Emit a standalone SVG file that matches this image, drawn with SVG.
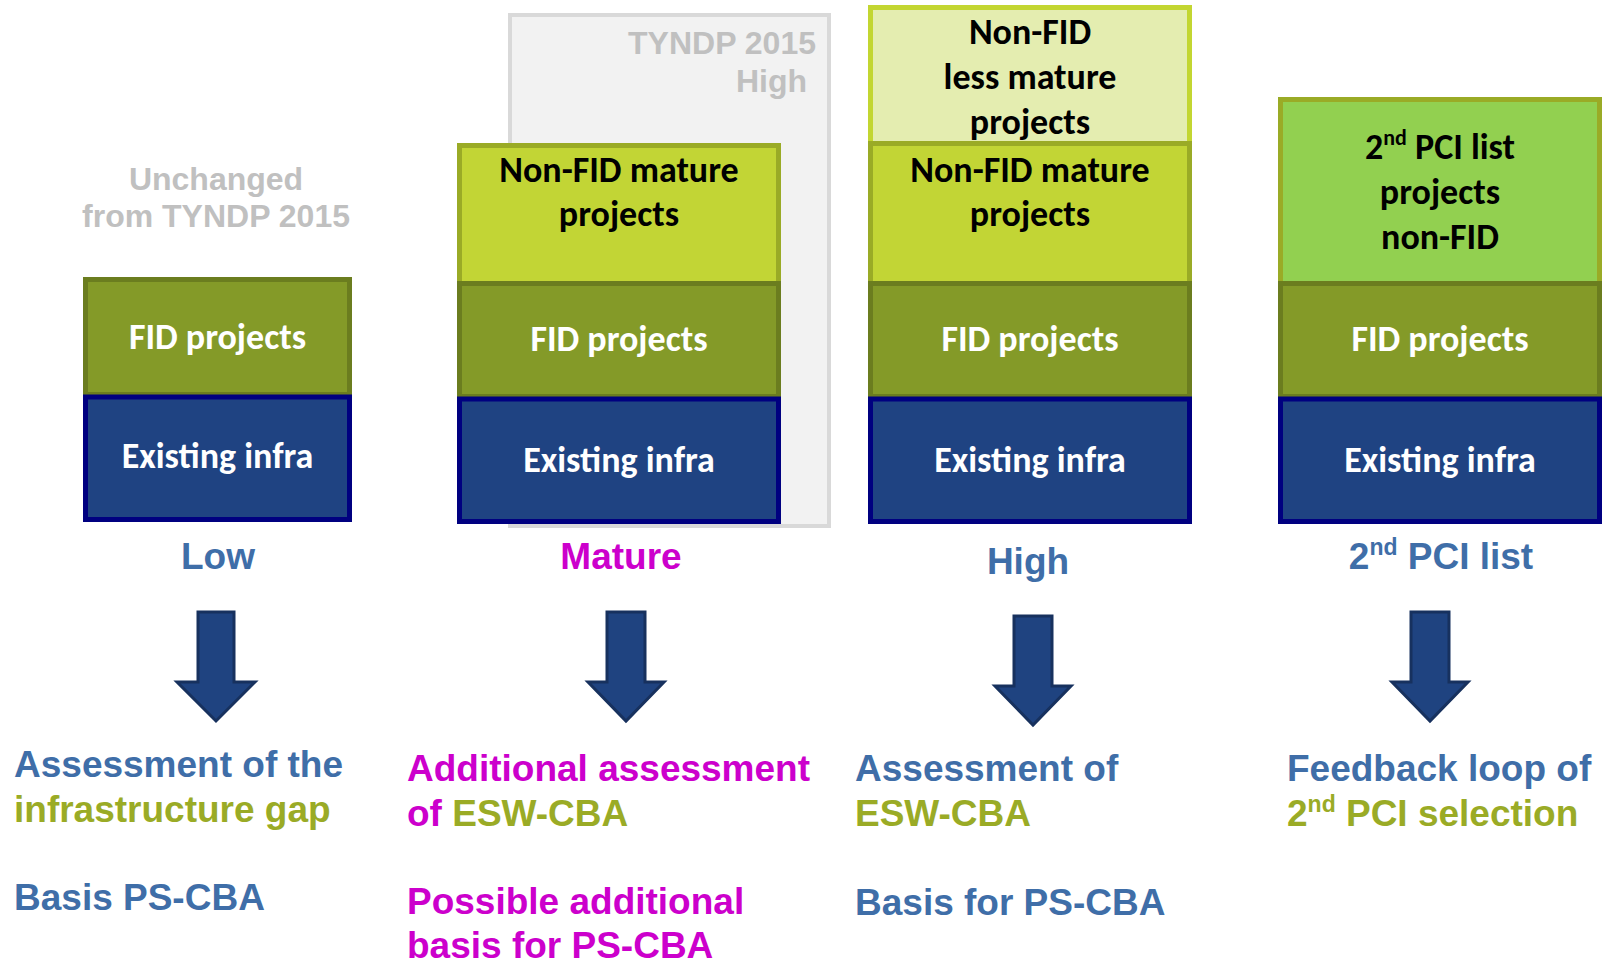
<svg xmlns="http://www.w3.org/2000/svg" width="1604" height="963" viewBox="0 0 1604 963">
  <defs>
    <style>
      .box { stroke-width: 5; }
      .fid { fill: #849a28; stroke: #6b7d1f; }
      .ex { fill: #1f4382; stroke: #000080; }
      .nfm { fill: #c2d535; stroke: #9aab26; }
      .nfl { fill: #e4edb0; stroke: #c3d631; }
      .pci { fill: #92d050; stroke: #9aab26; }
      .bt { font-family: Carlito, Lato, "Open Sans", sans-serif; font-weight: bold; font-size: 36px; text-anchor: middle; }
      .w { fill: #ffffff; }
      .k { fill: #000000; }
      .ar { font-family: "Liberation Sans", Arial, sans-serif; font-weight: bold; font-size: 37px; }
      .gray { fill: #c0c0c0; font-size: 32px; }
      .blue { fill: #3f6ea8; }
      .olive { fill: #9aab26; }
      .mag { fill: #cc00cc; }
      .arrow { fill: #1f4380; stroke: #17315e; stroke-width: 3; stroke-linejoin: miter; }
    </style>
  </defs>

  <!-- background reference box TYNDP 2015 High -->
  <g id="tyndp2015-high">
    <rect x="510" y="15" width="319" height="511" fill="#f2f2f2" stroke="#d9d9d9" stroke-width="4"/>
    <text class="ar gray" x="816" y="54" text-anchor="end">TYNDP 2015</text>
    <text class="ar gray" x="807" y="92" text-anchor="end">High</text>
  </g>

  <g id="unchanged-note">
    <text class="ar gray" x="216" y="190" text-anchor="middle">Unchanged</text>
    <text class="ar gray" x="216" y="227" text-anchor="middle">from TYNDP 2015</text>
  </g>

  <!-- Column 1: Low -->
  <g id="low-stack">
    <rect class="box fid" x="85.5" y="279.5" width="264" height="115"/>
    <rect class="box ex" x="85.5" y="397" width="264" height="122.5"/>
    <text class="bt w" x="217.5" y="349">FID projects</text>
    <text class="bt w" x="217.5" y="468">Existing infra</text>
    <text class="ar blue" x="218" y="569" text-anchor="middle">Low</text>
  </g>

  <!-- Column 2: Mature -->
  <g id="mature-stack">
    <rect class="box nfm" x="459.5" y="145.5" width="319" height="138"/>
    <rect class="box fid" x="459.5" y="283.5" width="319" height="113"/>
    <rect class="box ex" x="459.5" y="399" width="319" height="122.5"/>
    <text class="bt k" x="619" y="182">Non-FID mature</text>
    <text class="bt k" x="619" y="226">projects</text>
    <text class="bt w" x="619" y="351">FID projects</text>
    <text class="bt w" x="619" y="472">Existing infra</text>
    <text class="ar mag" x="621" y="569" text-anchor="middle">Mature</text>
  </g>

  <!-- Column 3: High -->
  <g id="high-stack">
    <rect class="box nfl" x="870.5" y="7.5" width="319" height="136"/>
    <rect class="box nfm" x="870.5" y="143.5" width="319" height="140"/>
    <rect class="box fid" x="870.5" y="283.5" width="319" height="113"/>
    <rect class="box ex" x="870.5" y="399" width="319" height="122.5"/>
    <text class="bt k" x="1030" y="44">Non-FID</text>
    <text class="bt k" x="1030" y="89">less mature</text>
    <text class="bt k" x="1030" y="134">projects</text>
    <text class="bt k" x="1030" y="182">Non-FID mature</text>
    <text class="bt k" x="1030" y="226">projects</text>
    <text class="bt w" x="1030" y="351">FID projects</text>
    <text class="bt w" x="1030" y="472">Existing infra</text>
    <text class="ar blue" x="1028" y="574" text-anchor="middle">High</text>
  </g>

  <!-- Column 4: 2nd PCI list -->
  <g id="pci-stack">
    <rect class="box pci" x="1280.5" y="99.5" width="319" height="184"/>
    <rect class="box fid" x="1280.5" y="283.5" width="319" height="113"/>
    <rect class="box ex" x="1280.5" y="399" width="319" height="122.5"/>
    <text class="bt k" x="1440" y="159">2<tspan font-size="22" dy="-14">nd</tspan><tspan dy="14"> PCI list</tspan></text>
    <text class="bt k" x="1440" y="204">projects</text>
    <text class="bt k" x="1440" y="249">non-FID</text>
    <text class="bt w" x="1440" y="351">FID projects</text>
    <text class="bt w" x="1440" y="472">Existing infra</text>
    <text class="ar blue" x="1441" y="569" text-anchor="middle">2<tspan font-size="23" dy="-14">nd</tspan><tspan dy="14"> PCI list</tspan></text>
  </g>

  <!-- Connectors: down arrows -->
  <g id="connectors">
    <path class="arrow" d="M198,612 H234 V682 H255 L216,721 L177,682 H198 Z"/>
    <path class="arrow" d="M607,612 H645 V682 H664 L626,721 L588,682 H607 Z"/>
    <path class="arrow" d="M1014,616 H1052 V686 H1071 L1033,725 L995,686 H1014 Z"/>
    <path class="arrow" d="M1411,612 H1449 V682 H1468 L1430,721 L1392,682 H1411 Z"/>
  </g>

  <!-- Outcome texts -->
  <g id="outcome-low">
    <text class="ar blue" x="14" y="777">Assessment of the</text>
    <text class="ar olive" x="14" y="822">infrastructure gap</text>
    <text class="ar blue" x="14" y="910">Basis PS-CBA</text>
  </g>
  <g id="outcome-mature">
    <text class="ar mag" x="407" y="781">Additional assessment</text>
    <text class="ar" x="407" y="826"><tspan class="mag">of </tspan><tspan class="olive">ESW-CBA</tspan></text>
    <text class="ar mag" x="407" y="914">Possible additional</text>
    <text class="ar mag" x="407" y="958">basis for PS-CBA</text>
  </g>
  <g id="outcome-high">
    <text class="ar blue" x="855" y="781">Assessment of</text>
    <text class="ar olive" x="855" y="826">ESW-CBA</text>
    <text class="ar blue" x="855" y="915">Basis for PS-CBA</text>
  </g>
  <g id="outcome-pci">
    <text class="ar blue" x="1287" y="781">Feedback loop of</text>
    <text class="ar olive" x="1287" y="826">2<tspan font-size="23" dy="-14">nd</tspan><tspan dy="14"> PCI selection</tspan></text>
  </g>
</svg>
